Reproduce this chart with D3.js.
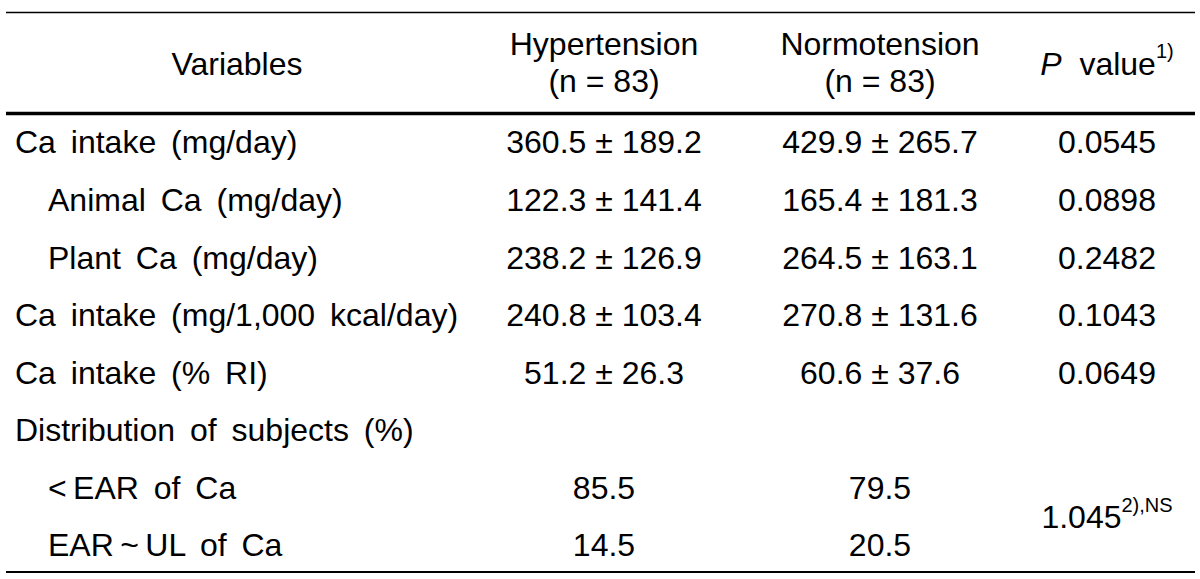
<!DOCTYPE html>
<html><head><meta charset="utf-8">
<script src="https://cdn.jsdelivr.net/npm/d3@7"></script>
<style>body{margin:0;background:#fff}svg text{font-family:"Liberation Sans",Arial,sans-serif;fill:#000}</style>
</head><body><svg id="c" width="1200" height="579"></svg>
<script>
const columns = ["Variables", "Hypertension", "Normotension", "P value"];
const headerSub = ["", "(n = 83)", "(n = 83)", ""];
const variables = ["Ca intake (mg/day)", "Animal Ca (mg/day)", "Plant Ca (mg/day)", "Ca intake (mg/1,000 kcal/day)", "Ca intake (% RI)", "Distribution of subjects (%)", "<\u2009EAR of Ca", "EAR\u2009~\u2009UL of Ca"];
const indentLevel = [0, 1, 1, 0, 0, 0, 1, 1];
const hypertension = ["360.5 ± 189.2", "122.3 ± 141.4", "238.2 ± 126.9", "240.8 ± 103.4", "51.2 ± 26.3", "", "85.5", "14.5"];
const normotension = ["429.9 ± 265.7", "165.4 ± 181.3", "264.5 ± 163.1", "270.8 ± 131.6", "60.6 ± 37.6", "", "79.5", "20.5"];
const pValues = ["0.0545", "0.0898", "0.2482", "0.1043", "0.0649", "", "", ""];
const mergedP = {value: "1.045", sup: "2),NS", rows: [6, 7]};

const svg = d3.select("#c");
const fs = 32;
const x = d3.scaleOrdinal().domain(columns).range([237, 604, 880, 1107]);
const y = d3.scaleBand().domain(d3.range(variables.length)).range([113.5, 574]);

// rules
const rule = (yy, w) => svg.append("line").attr("x1",6).attr("x2",1195).attr("y1",yy).attr("y2",yy).attr("stroke","#000").attr("stroke-width",w);
rule(12.5, 1.6);
rule(113.5, 3.6);
rule(572, 2);

// header
const h = svg.append("g").attr("font-size", fs).attr("text-anchor","middle");
h.append("text").attr("x", x("Variables")).attr("y", 64).attr("dy","0.35em").text("Variables");
["Hypertension","Normotension"].forEach((c,i)=>{
  h.append("text").attr("x", x(c)).attr("y", 44).attr("dy","0.35em").text(c);
  h.append("text").attr("x", x(c)).attr("y", 81).attr("dy","0.35em").text(headerSub[i+1]);
});
const pt = h.append("text").attr("x", x("P value")).attr("y", 64).attr("dy","0.35em");
pt.append("tspan").attr("font-style","italic").text("P");
pt.append("tspan").text("\u00a0\u00a0value");
pt.append("tspan").attr("font-size", 20).attr("dy","-0.85em").text("1)");

// body
const g = svg.append("g").attr("font-size", fs);
variables.forEach((v,i)=>{
  const cy = y(i) + y.bandwidth()/2;
  g.append("text").attr("x", 15 + indentLevel[i]*33).attr("y", cy).attr("dy","0.35em")
   .attr("word-spacing", 6).text(v);
  g.append("text").attr("x", x("Hypertension")).attr("y", cy).attr("dy","0.35em").attr("text-anchor","middle").text(hypertension[i]);
  g.append("text").attr("x", x("Normotension")).attr("y", cy).attr("dy","0.35em").attr("text-anchor","middle").text(normotension[i]);
  if (pValues[i]) g.append("text").attr("x", x("P value")).attr("y", cy).attr("dy","0.35em").attr("text-anchor","middle").text(pValues[i]);
});
const my = d3.mean(mergedP.rows, r => y(r) + y.bandwidth()/2);
const mp = g.append("text").attr("x", x("P value")).attr("y", my).attr("dy","0.35em").attr("text-anchor","middle");
mp.append("tspan").text(mergedP.value);
mp.append("tspan").attr("font-size", 20).attr("dy","-0.8em").text(mergedP.sup);
</script></body></html>
